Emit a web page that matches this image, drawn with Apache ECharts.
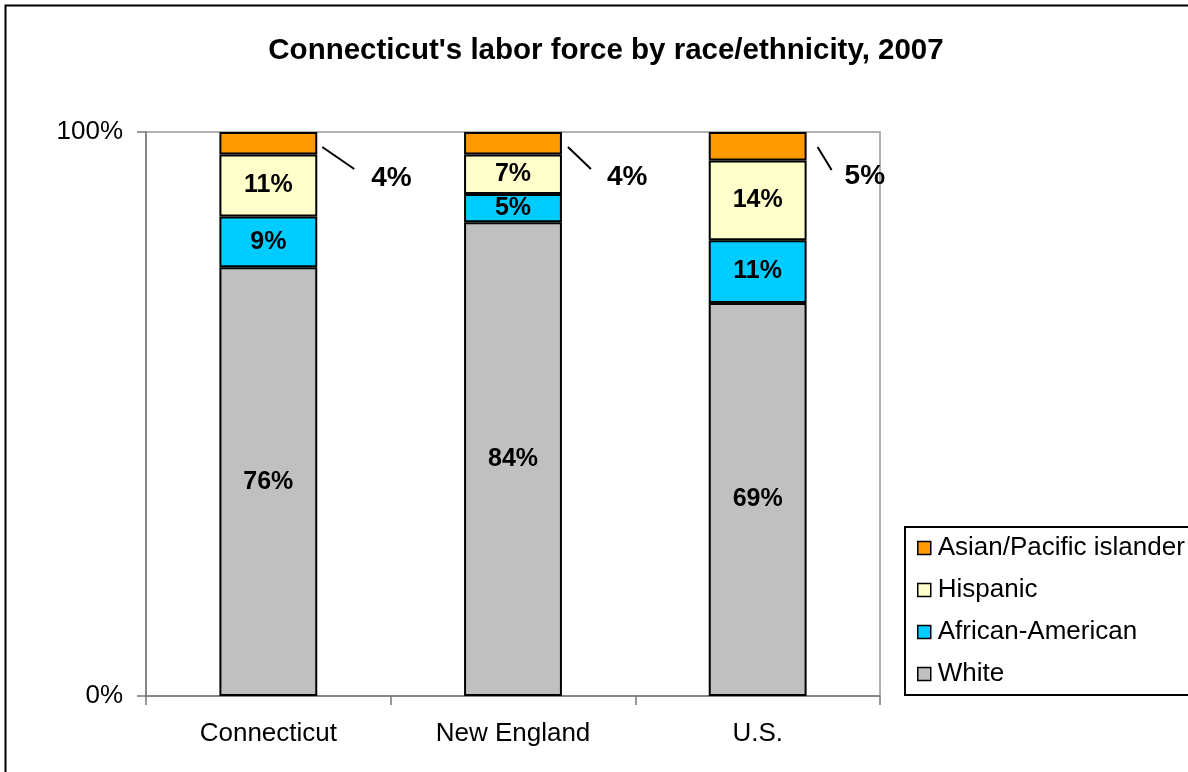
<!DOCTYPE html>
<html>
<head>
<meta charset="utf-8">
<title>Connecticut's labor force by race/ethnicity, 2007</title>
<script src="https://cdn.jsdelivr.net/npm/echarts@6/dist/echarts.min.js"></script>
<style>
  html, body { margin: 0; padding: 0; background: #fff; }
  #chart { width: 1188px; height: 772px; }
</style>
</head>
<body>
<div id="chart"></div>
<script>
var categories = ['Connecticut', 'New England', 'U.S.'];
var white = [76, 84, 69];
var africanAmerican = [9, 5, 11];
var hispanic = [11, 7, 14];
var asianPacific = [4, 4, 5];
var yTicks = [0, 100];

// outside labels of the top segment: [x from bar edge, y from bar top]
var asianLabelPos = [[54, 46], [45, 45], [38, 44]];
// leader lines: [x1, y1, x2, y2] relative to bar right edge / bar top
var asianLeader = [[5, 15, 37, 37], [6, 15, 29, 37], [11, 15, 25, 38]];

var FONT = 'Liberation Sans, Arial, sans-serif';
var chart = echarts.init(document.getElementById('chart'));

var totals = categories.map(function (c, i) {
    return white[i] + africanAmerican[i] + hispanic[i] + asianPacific[i];
});

function shares(values) {
    return values.map(function (v, i) {
        return { value: v / totals[i] * 100, raw: v };
    });
}

function barSeries(name, values, color) {
    return {
        name: name,
        type: 'bar',
        stack: 'all',
        barCategoryGap: '60%',
        data: shares(values),
        itemStyle: { color: color, borderColor: '#000', borderWidth: 2 },
        label: {
            show: true,
            position: 'inside',
            formatter: function (p) { return p.data.raw + '%'; },
            fontFamily: FONT,
            fontWeight: 'bold',
            fontSize: 25,
            color: '#000'
        },
        emphasis: { disabled: true }
    };
}

var asianSeries = barSeries('Asian/Pacific islander', asianPacific, '#FF9900');
asianSeries.label.fontSize = 28;
asianSeries.labelLayout = function (p) {
    var s = asianLabelPos[p.dataIndex];
    return {
        x: p.rect.x + p.rect.width + s[0],
        y: p.rect.y + s[1],
        align: 'left',
        verticalAlign: 'middle'
    };
};

var option = {
    backgroundColor: '#fff',
    animation: false,
    title: {
        text: "Connecticut's labor force by race/ethnicity, 2007",
        left: 601,
        top: 31,
        textAlign: 'center',
        textStyle: {
            fontFamily: FONT,
            fontWeight: 'bold',
            fontSize: 29.5,
            color: '#000'
        }
    },
    legend: {
        orient: 'vertical',
        left: 905,
        top: 527,
        data: ['Asian/Pacific islander', 'Hispanic', 'African-American', 'White'],
        icon: 'rect',
        itemWidth: 13,
        itemHeight: 13,
        itemGap: 14,
        padding: [7, 80, 7, 12],
        borderColor: '#000',
        borderWidth: 2,
        backgroundColor: '#fff',
        itemStyle: { borderColor: '#000', borderWidth: 1.5 },
        textStyle: {
            fontFamily: FONT,
            fontSize: 26,
            lineHeight: 28,
            color: '#000',
            padding: [0, 0, 0, 2]
        }
    },
    grid: {
        left: 146,
        right: 308,
        top: 132,
        bottom: 76,
        show: true,
        borderColor: '#999',
        borderWidth: 1.5
    },
    xAxis: {
        type: 'category',
        data: categories,
        axisLine: { lineStyle: { color: '#777', width: 1.5 } },
        axisTick: { show: true, length: 9, lineStyle: { color: '#777', width: 1.5 } },
        axisLabel: {
            margin: 25,
            fontFamily: FONT,
            fontSize: 26,
            color: '#000'
        }
    },
    yAxis: {
        type: 'value',
        min: yTicks[0],
        max: yTicks[yTicks.length - 1],
        interval: yTicks[1] - yTicks[0],
        splitLine: { show: false },
        axisLine: { show: true, lineStyle: { color: '#777', width: 1.5 } },
        axisTick: { show: true, length: 9, lineStyle: { color: '#777', width: 1.5 } },
        axisLabel: {
            margin: 23,
            formatter: '{value}%',
            fontFamily: FONT,
            fontSize: 26,
            color: '#000'
        }
    },
    series: [
        barSeries('White', white, '#C0C0C0'),
        barSeries('African-American', africanAmerican, '#00CCFF'),
        barSeries('Hispanic', hispanic, '#FFFFCC'),
        asianSeries
    ]
};

chart.setOption(option);

// frame round the chart and leader lines for the outside labels
var band = chart.convertToPixel({ xAxisIndex: 0 }, 1) - chart.convertToPixel({ xAxisIndex: 0 }, 0);
var barTop = chart.convertToPixel({ yAxisIndex: 0 }, yTicks[yTicks.length - 1]);
var graphics = [{
    type: 'rect',
    left: 3,
    top: 3,
    shape: { width: 1300, height: 900 },
    style: { fill: null, stroke: '#000', lineWidth: 2 },
    silent: true
}];
categories.forEach(function (c, i) {
    var edge = chart.convertToPixel({ xAxisIndex: 0 }, i) + band * 0.2;
    var l = asianLeader[i];
    graphics.push({
        type: 'line',
        shape: { x1: edge + l[0], y1: barTop + l[1], x2: edge + l[2], y2: barTop + l[3] },
        style: { stroke: '#000', lineWidth: 2 },
        silent: true
    });
});
chart.setOption({ graphic: graphics });
</script>
</body>
</html>
